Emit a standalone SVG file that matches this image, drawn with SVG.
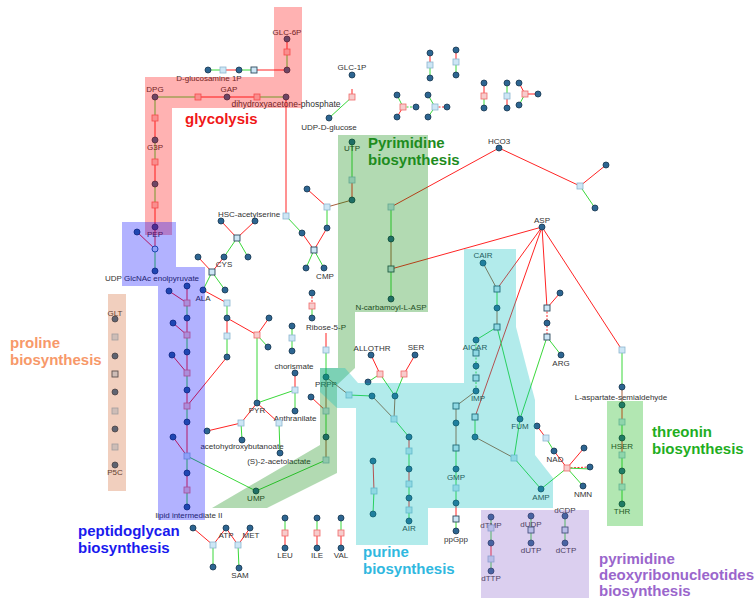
<svg xmlns="http://www.w3.org/2000/svg" xmlns:xlink="http://www.w3.org/1999/xlink" width="756" height="598" viewBox="0 0 756 598">
<style>
.r{stroke:#ff2424}.g{stroke:#3ad83a}.b{stroke:#a8603e}.d{stroke-dasharray:2 1.5}
.m{fill:#2d6591;stroke:#16364f;stroke-width:0.8}
.s{fill:#cde6f5;stroke:#8db6cf;stroke-width:0.8}
.p{fill:#f7cccc;stroke:#f06a6a;stroke-width:0.8}
.k{fill:#cde6f5;stroke:#2d4a5e;stroke-width:0.9}
text{font-family:"Liberation Sans",Arial,sans-serif}
.t{font-size:8px;fill:#333;text-anchor:middle}
.big{font-size:15px;font-weight:bold}
</style>
<defs>
<circle id="nd" r="3"/>
<rect id="sq" x="-3" y="-3" width="6" height="6"/>
</defs>
<rect width="756" height="598" fill="#fff"/>
<g id="connectors" fill="none" stroke-width="1">
<path class="r" d="M287 39V52M223 70H239M254 70H287M198 97H257M155 118V140M155 162V184M155 205V227M155 227L155 249M137 232L155 249M286 97V216M352 89V95M352 180V200M307 189L327 207M327 228L314 250M302 233L314 250M221 221L237 238M255 221L237 238M198 257L212 272M224 257L212 272M203 290L227 303M227 318V336M227 357L187 406M227 318L257 335M269 318L257 335M326 333V347M311 397L326 411M295 373V390M257 403L241 423M207 431L241 423M257 403L279 423M371 355L380 374M415 355L404 374M373 461L374 491M537 426L546 438M554 451L567 468M567 468L584 448M542 227L391 269M542 227L497 289M542 227L475 417M542 227L547 308M560 293L547 308M542 227L622 350M499 148L391 207M499 148L580 186M580 186L606 165M169 291L187 303M173 323L187 335M172 355L187 373M173 437L187 456M187 286V303M187 318V335M187 352V373M187 390V406M187 422V456M187 473V490M491 543V559M193 528L213 545M226 528L213 545M226 528L238 545M250 528L238 545M285 533V548M317 533V548M341 533V548M430 53V65M456 50V62M397 117L403 107M484 83V96M507 96V108M519 83L525 94M525 94H538M409 437V451M409 469V484M409 498V510M622 405V422M622 438V455M622 471V487M456 503V519"/>
<path class="r d" d="M312 293V306M567 468L590 467M435 107H447M547 308V337"/>
<path class="g" d="M287 52V70M208 70H223M239 70H254M155 97H198M257 97H286M155 97V118M155 140V162M155 184V205M155 249V271M352 97L329 118M352 142V180M327 207V228M286 216L302 233M314 250L306 268M314 250L324 268M237 238L224 257M237 238L248 257M212 272L225 290M212 272L203 290M227 303V318M227 336V357M257 335L268 347M257 335V403M312 306V318M292 326V351M326 353V377M326 411V437M326 460L256 491M256 491L187 456M349 395L372 396M295 390L257 403M295 390V411M241 423L242 440M279 423L280 453M380 374L368 382M380 374L395 396M404 374L395 396M394 419L409 437M409 451V469M409 484V498M409 510V521M374 491L373 514M497 289V308M497 327L476 340M497 327L520 419M475 417V437M514 458L520 419M514 458L541 489M546 438L554 451M567 468L541 489M567 468L583 486M567 468L590 469M547 337L561 355M547 337L520 419M622 350V387M391 207V239M391 269V299M580 186L595 208M187 303V318M187 335V352M187 373V390M187 406V422M187 456V473M187 490V507M622 422V438M622 455V471M622 487V504M456 448V503M456 519V531M491 517V543M491 559V571M531 516V543M565 516V543M213 545V567M238 545L239 568M285 518V533M317 518V533M341 518V533M430 65V78M456 62V75M397 95L403 107M428 95L435 107M428 117L435 107M484 96V108M507 83V96M519 105L525 94"/>
<path class="g d" d="M476 340V391M403 107H416"/>
<path class="b" d="M352 200L327 207M326 377V411M326 437V460M326 377L349 395M372 396L394 419M395 396L394 419M483 263L497 289M497 308V327M476 391L456 406M475 437L514 458M391 239V269M456 406V448M622 387V405"/>
</g>
<g id="nodes">
<g id="GLC6P"><use href="#nd" class="m" x="287" y="39"/><text class="t" x="287" y="35">GLC-6P</text></g>
<g id="r1"><use href="#sq" class="p" x="287" y="52"/></g>
<g id="n1"><use href="#nd" class="m" x="287" y="70"/></g>
<g id="GlcN1P"><use href="#nd" class="m" x="208" y="70"/><text class="t" x="209" y="81">D-glucosamine 1P</text></g>
<g id="r2"><use href="#sq" class="s" x="223" y="70"/></g>
<g id="n2"><use href="#nd" class="m" x="239" y="70"/></g>
<g id="r3"><use href="#sq" class="k" x="254" y="70"/></g>
<g id="DPG"><use href="#nd" class="m" x="155" y="97"/><text class="t" x="155" y="92">DPG</text></g>
<g id="r4"><use href="#sq" class="p" x="198" y="97"/></g>
<g id="GAP"><use href="#nd" class="m" x="227" y="97"/><text class="t" x="229" y="92">GAP</text></g>
<g id="r5"><use href="#sq" class="p" x="257" y="97"/></g>
<g id="DHAP"><use href="#nd" class="m" x="286" y="97"/><text class="t" x="286" y="107" style="font-size:8.5px">dihydroxyacetone-phosphate</text></g>
<g id="r6"><use href="#sq" class="p" x="155" y="118"/></g>
<g id="G3P"><use href="#nd" class="m" x="155" y="140"/><text class="t" x="155" y="150">G3P</text></g>
<g id="r7"><use href="#sq" class="p" x="155" y="162"/></g>
<g id="n3"><use href="#nd" class="m" x="155" y="184"/></g>
<g id="r8"><use href="#sq" class="p" x="155" y="205"/></g>
<g id="PEP"><use href="#nd" class="m" x="155" y="227"/><text class="t" x="155" y="237">PEP</text></g>
<g id="n4"><use href="#nd" class="m" x="137" y="232"/></g>
<g id="r9"><circle cx="155" cy="249" r="3" fill="#cde6f5" stroke="#2d6591" stroke-width="1"/></g>
<g id="UDPGlcNAcEP"><use href="#nd" class="m" x="155" y="271"/><text class="t" x="152" y="281">UDP GlcNAc enolpyruvate</text></g>
<g id="GLC1P"><use href="#nd" class="m" x="352" y="75"/><text class="t" x="352" y="70">GLC-1P</text></g>
<g id="r10"><use href="#sq" class="p" x="352" y="97"/></g>
<g id="UDPG"><use href="#nd" class="m" x="329" y="118"/><text class="t" x="329" y="130">UDP-D-glucose</text></g>
<g id="UTP"><use href="#nd" class="m" x="352" y="142"/><text class="t" x="352" y="151">UTP</text></g>
<g id="r11"><use href="#sq" class="s" x="352" y="180"/></g>
<g id="n5"><use href="#nd" class="m" x="352" y="200"/></g>
<g id="n6"><use href="#nd" class="m" x="307" y="189"/></g>
<g id="r12"><use href="#sq" class="s" x="327" y="207"/></g>
<g id="n7"><use href="#nd" class="m" x="327" y="228"/></g>
<g id="HSC"><use href="#sq" class="s" x="286" y="216"/><text class="t" x="249" y="217">HSC-acetylserine</text></g>
<g id="n8"><use href="#nd" class="m" x="302" y="233"/></g>
<g id="r13"><use href="#sq" class="k" x="314" y="250"/></g>
<g id="n9"><use href="#nd" class="m" x="306" y="268"/></g>
<g id="CMP"><use href="#nd" class="m" x="324" y="268"/><text class="t" x="325" y="279">CMP</text></g>
<g id="n10"><use href="#nd" class="m" x="221" y="221"/></g>
<g id="n11"><use href="#nd" class="m" x="255" y="221"/></g>
<g id="r14"><use href="#sq" class="k" x="237" y="238"/></g>
<g id="n12"><use href="#nd" class="m" x="224" y="257"/></g>
<g id="n13"><use href="#nd" class="m" x="248" y="257"/></g>
<g id="n14"><use href="#nd" class="m" x="198" y="257"/></g>
<g id="CYS"><use href="#sq" class="k" x="212" y="272"/><text class="t" x="224" y="267">CYS</text></g>
<g id="n15"><use href="#nd" class="m" x="225" y="290"/></g>
<g id="ALA"><use href="#nd" class="m" x="203" y="290"/><text class="t" x="203" y="301">ALA</text></g>
<g id="r15"><use href="#sq" class="s" x="227" y="303"/></g>
<g id="n16"><use href="#nd" class="m" x="227" y="318"/></g>
<g id="r16"><use href="#sq" class="s" x="227" y="336"/></g>
<g id="n17"><use href="#nd" class="m" x="227" y="357"/></g>
<g id="r17"><use href="#sq" class="p" x="257" y="335"/></g>
<g id="n18"><use href="#nd" class="m" x="269" y="318"/></g>
<g id="n19"><use href="#nd" class="m" x="268" y="347"/></g>
<g id="n20"><use href="#nd" class="m" x="312" y="293"/></g>
<g id="r18"><use href="#sq" class="p" x="312" y="306"/></g>
<g id="n21"><use href="#nd" class="m" x="312" y="318"/></g>
<g id="n22"><use href="#nd" class="m" x="292" y="326"/></g>
<g id="r19"><use href="#sq" class="s" x="292" y="338"/></g>
<g id="n23"><use href="#nd" class="m" x="292" y="351"/></g>
<g id="R5P"><text class="t" x="326" y="330">Ribose-5-P</text></g>
<g id="r20"><use href="#sq" class="s" x="326" y="350"/></g>
<g id="PRPP"><use href="#nd" class="m" x="326" y="377"/><text class="t" x="326" y="387">PRPP</text></g>
<g id="n24"><use href="#nd" class="m" x="311" y="397"/></g>
<g id="r21"><use href="#sq" class="s" x="326" y="411"/></g>
<g id="n25"><use href="#nd" class="m" x="326" y="437"/></g>
<g id="r22"><use href="#sq" class="s" x="326" y="460"/></g>
<g id="UMP"><use href="#nd" class="m" x="256" y="491"/><text class="t" x="256" y="501">UMP</text></g>
<g id="chorismate"><use href="#nd" class="m" x="295" y="373"/><text class="t" x="294" y="369">chorismate</text></g>
<g id="r23"><use href="#sq" class="s" x="295" y="390"/></g>
<g id="Anthranilate"><use href="#nd" class="m" x="295" y="411"/><text class="t" x="295" y="421">Anthranilate</text></g>
<g id="PYR"><use href="#nd" class="m" x="257" y="403"/><text class="t" x="257" y="413">PYR</text></g>
<g id="r24"><use href="#sq" class="s" x="241" y="423"/></g>
<g id="n26"><use href="#nd" class="m" x="207" y="431"/></g>
<g id="AHB"><use href="#nd" class="m" x="242" y="440"/><text class="t" x="242" y="449">acetohydroxybutanoate</text></g>
<g id="r25"><use href="#sq" class="s" x="279" y="423"/></g>
<g id="AL"><use href="#nd" class="m" x="280" y="453"/><text class="t" x="279" y="464">(S)-2-acetolactate</text></g>
<g id="ALLOTHR"><use href="#nd" class="m" x="371" y="355"/><text class="t" x="372" y="351">ALLOTHR</text></g>
<g id="SER"><use href="#nd" class="m" x="415" y="355"/><text class="t" x="416" y="350">SER</text></g>
<g id="r26"><use href="#sq" class="p" x="380" y="374"/></g>
<g id="r27"><use href="#sq" class="p" x="404" y="374"/></g>
<g id="n27"><use href="#nd" class="m" x="368" y="382"/></g>
<g id="n28"><use href="#nd" class="m" x="395" y="396"/></g>
<g id="r28"><use href="#sq" class="s" x="349" y="395"/></g>
<g id="n29"><use href="#nd" class="m" x="372" y="396"/></g>
<g id="r29"><use href="#sq" class="s" x="394" y="419"/></g>
<g id="n30"><use href="#nd" class="m" x="409" y="437"/></g>
<g id="r30"><use href="#sq" class="s" x="409" y="451"/></g>
<g id="n31"><use href="#nd" class="m" x="409" y="469"/></g>
<g id="r31"><use href="#sq" class="s" x="409" y="484"/></g>
<g id="n32"><use href="#nd" class="m" x="409" y="498"/></g>
<g id="r32"><use href="#sq" class="s" x="409" y="510"/></g>
<g id="AIR"><use href="#nd" class="m" x="409" y="521"/><text class="t" x="409" y="531">AIR</text></g>
<g id="n33"><use href="#nd" class="m" x="373" y="461"/></g>
<g id="r33"><use href="#sq" class="s" x="374" y="491"/></g>
<g id="n34"><use href="#nd" class="m" x="373" y="514"/></g>
<g id="CAIR"><use href="#nd" class="m" x="483" y="263"/><text class="t" x="483" y="258">CAIR</text></g>
<g id="r34"><use href="#sq" class="k" x="497" y="289"/></g>
<g id="n35"><use href="#nd" class="m" x="497" y="308"/></g>
<g id="r35"><use href="#sq" class="k" x="497" y="327"/></g>
<g id="AICAR"><use href="#nd" class="m" x="476" y="340"/><text class="t" x="475" y="350">AICAR</text></g>
<g id="r36"><use href="#sq" class="k" x="476" y="353"/></g>
<g id="n36"><use href="#nd" class="m" x="476" y="366"/></g>
<g id="r37"><use href="#sq" class="k" x="476" y="378"/></g>
<g id="IMP"><use href="#nd" class="m" x="476" y="391"/><text class="t" x="478" y="401">IMP</text></g>
<g id="r38"><use href="#sq" class="k" x="456" y="406"/></g>
<g id="n37"><use href="#nd" class="m" x="456" y="423"/></g>
<g id="r39"><use href="#sq" class="k" x="456" y="448"/></g>
<g id="GMP"><use href="#nd" class="m" x="456" y="469"/><text class="t" x="456" y="480">GMP</text></g>
<g id="r40"><use href="#sq" class="s" x="456" y="488"/></g>
<g id="n38"><use href="#nd" class="m" x="456" y="503"/></g>
<g id="r41"><use href="#sq" class="k" x="456" y="519"/></g>
<g id="ppGpp"><use href="#nd" class="m" x="456" y="531"/><text class="t" x="456" y="542">ppGpp</text></g>
<g id="r42"><use href="#sq" class="k" x="475" y="417"/></g>
<g id="n39"><use href="#nd" class="m" x="475" y="437"/></g>
<g id="r43"><use href="#sq" class="s" x="514" y="458"/></g>
<g id="FUM"><use href="#nd" class="m" x="520" y="419"/><text class="t" x="520" y="429">FUM</text></g>
<g id="AMP"><use href="#nd" class="m" x="541" y="489"/><text class="t" x="541" y="500">AMP</text></g>
<g id="n40"><use href="#nd" class="m" x="537" y="426"/></g>
<g id="r44"><use href="#sq" class="s" x="546" y="438"/></g>
<g id="NAD"><use href="#nd" class="m" x="554" y="451"/><text class="t" x="555" y="462">NAD</text></g>
<g id="r45"><use href="#sq" class="p" x="567" y="468"/></g>
<g id="n41"><use href="#nd" class="m" x="584" y="448"/></g>
<g id="n42"><use href="#nd" class="m" x="590" y="467"/></g>
<g id="NMN"><use href="#nd" class="m" x="583" y="486"/><text class="t" x="583" y="497">NMN</text></g>
<g id="ASP"><use href="#nd" class="m" x="542" y="227"/><text class="t" x="542" y="223">ASP</text></g>
<g id="n43"><use href="#nd" class="m" x="560" y="293"/></g>
<g id="r46"><use href="#sq" class="k" x="547" y="308"/></g>
<g id="n44"><use href="#nd" class="m" x="547" y="323"/></g>
<g id="r47"><use href="#sq" class="k" x="547" y="337"/></g>
<g id="ARG"><use href="#nd" class="m" x="561" y="355"/><text class="t" x="561" y="366">ARG</text></g>
<g id="r48"><use href="#sq" class="s" x="622" y="350"/></g>
<g id="ASA"><use href="#nd" class="m" x="622" y="387"/><text class="t" x="621" y="400">L-aspartate-semialdehyde</text></g>
<g id="n45"><use href="#nd" class="m" x="622" y="405"/></g>
<g id="r49"><use href="#sq" class="s" x="622" y="422"/></g>
<g id="HSER"><use href="#nd" class="m" x="622" y="438"/><text class="t" x="622" y="449">HSER</text></g>
<g id="r50"><use href="#sq" class="s" x="622" y="455"/></g>
<g id="n46"><use href="#nd" class="m" x="622" y="471"/></g>
<g id="r51"><use href="#sq" class="s" x="622" y="487"/></g>
<g id="THR"><use href="#nd" class="m" x="622" y="504"/><text class="t" x="622" y="514">THR</text></g>
<g id="HCO3"><use href="#nd" class="m" x="499" y="148"/><text class="t" x="499" y="144">HCO3</text></g>
<g id="r52"><use href="#sq" class="s" x="580" y="186"/></g>
<g id="n47"><use href="#nd" class="m" x="606" y="165"/></g>
<g id="n48"><use href="#nd" class="m" x="595" y="208"/></g>
<g id="r53"><use href="#sq" class="s" x="391" y="207"/></g>
<g id="n49"><use href="#nd" class="m" x="391" y="239"/></g>
<g id="r54"><use href="#sq" class="k" x="391" y="269"/></g>
<g id="NCASP"><use href="#nd" class="m" x="391" y="299"/><text class="t" x="391" y="310">N-carbamoyl-L-ASP</text></g>
<g id="GLT"><use href="#nd" class="m" x="115" y="319"/><text class="t" x="115" y="316">GLT</text></g>
<g id="r55"><use href="#sq" class="s" x="115" y="337"/></g>
<g id="n50"><use href="#nd" class="m" x="115" y="356"/></g>
<g id="r56"><use href="#sq" class="k" x="115" y="374"/></g>
<g id="n51"><use href="#nd" class="m" x="115" y="392"/></g>
<g id="r57"><use href="#sq" class="s" x="115" y="411"/></g>
<g id="n52"><use href="#nd" class="m" x="115" y="429"/></g>
<g id="r58"><use href="#sq" class="s" x="115" y="447"/></g>
<g id="P5C"><use href="#nd" class="m" x="115" y="465"/><text class="t" x="115" y="475">P5C</text></g>
<g id="n53"><use href="#nd" class="m" x="187" y="286"/></g>
<g id="n54"><use href="#nd" class="m" x="169" y="291"/></g>
<g id="r59"><use href="#sq" class="p" x="187" y="303"/></g>
<g id="n55"><use href="#nd" class="m" x="187" y="318"/></g>
<g id="n56"><use href="#nd" class="m" x="173" y="323"/></g>
<g id="r60"><use href="#sq" class="p" x="187" y="335"/></g>
<g id="n57"><use href="#nd" class="m" x="187" y="352"/></g>
<g id="n58"><use href="#nd" class="m" x="172" y="355"/></g>
<g id="r61"><use href="#sq" class="p" x="187" y="373"/></g>
<g id="n59"><use href="#nd" class="m" x="187" y="390"/></g>
<g id="r62"><use href="#sq" class="p" x="187" y="406"/></g>
<g id="n60"><use href="#nd" class="m" x="187" y="422"/></g>
<g id="n61"><use href="#nd" class="m" x="173" y="437"/></g>
<g id="r63"><use href="#sq" class="s" x="187" y="456"/></g>
<g id="n62"><use href="#nd" class="m" x="187" y="473"/></g>
<g id="r64"><use href="#sq" class="p" x="187" y="490"/></g>
<g id="lipidII"><use href="#nd" class="m" x="187" y="507"/><text class="t" x="189" y="518">lipid intermediate II</text></g>
<g id="dTMP"><use href="#nd" class="m" x="491" y="517"/><text class="t" x="491" y="528">dTMP</text></g>
<g id="r65"><use href="#sq" class="s" x="491" y="528"/></g>
<g id="n63"><use href="#nd" class="m" x="491" y="543"/></g>
<g id="r66"><use href="#sq" class="s" x="491" y="559"/></g>
<g id="dTTP"><use href="#nd" class="m" x="491" y="571"/><text class="t" x="491" y="581">dTTP</text></g>
<g id="dUDP"><use href="#nd" class="m" x="531" y="516"/><text class="t" x="531" y="527">dUDP</text></g>
<g id="r67"><use href="#sq" class="k" x="531" y="530"/></g>
<g id="dUTP"><use href="#nd" class="m" x="531" y="543"/><text class="t" x="531" y="553">dUTP</text></g>
<g id="dCDP"><use href="#nd" class="m" x="565" y="516"/><text class="t" x="565" y="513">dCDP</text></g>
<g id="r68"><use href="#sq" class="k" x="565" y="530"/></g>
<g id="dCTP"><use href="#nd" class="m" x="565" y="543"/><text class="t" x="566" y="553">dCTP</text></g>
<g id="n64"><use href="#nd" class="m" x="193" y="528"/></g>
<g id="r69"><use href="#sq" class="s" x="213" y="545"/></g>
<g id="ATP"><use href="#nd" class="m" x="226" y="528"/><text class="t" x="226" y="538">ATP</text></g>
<g id="r70"><use href="#sq" class="s" x="238" y="545"/></g>
<g id="MET"><use href="#nd" class="m" x="250" y="528"/><text class="t" x="251" y="538">MET</text></g>
<g id="n65"><use href="#nd" class="m" x="213" y="567"/></g>
<g id="SAM"><use href="#nd" class="m" x="239" y="568"/><text class="t" x="240" y="578">SAM</text></g>
<g id="n66"><use href="#nd" class="m" x="285" y="518"/></g>
<g id="r71"><use href="#sq" class="p" x="285" y="533"/></g>
<g id="LEU"><use href="#nd" class="m" x="285" y="548"/><text class="t" x="285" y="558">LEU</text></g>
<g id="n67"><use href="#nd" class="m" x="317" y="518"/></g>
<g id="r72"><use href="#sq" class="p" x="317" y="533"/></g>
<g id="ILE"><use href="#nd" class="m" x="317" y="548"/><text class="t" x="317" y="558">ILE</text></g>
<g id="n68"><use href="#nd" class="m" x="341" y="518"/></g>
<g id="r73"><use href="#sq" class="p" x="341" y="533"/></g>
<g id="VAL"><use href="#nd" class="m" x="341" y="548"/><text class="t" x="341" y="558">VAL</text></g>
<g id="n69"><use href="#nd" class="m" x="430" y="53"/></g>
<g id="r74"><use href="#sq" class="s" x="430" y="65"/></g>
<g id="n70"><use href="#nd" class="m" x="430" y="78"/></g>
<g id="n71"><use href="#nd" class="m" x="456" y="50"/></g>
<g id="r75"><use href="#sq" class="s" x="456" y="62"/></g>
<g id="n72"><use href="#nd" class="m" x="456" y="75"/></g>
<g id="n73"><use href="#nd" class="m" x="397" y="95"/></g>
<g id="n74"><use href="#nd" class="m" x="397" y="117"/></g>
<g id="r76"><use href="#sq" class="p" x="403" y="107"/></g>
<g id="n75"><use href="#nd" class="m" x="416" y="107"/></g>
<g id="n76"><use href="#nd" class="m" x="428" y="95"/></g>
<g id="n77"><use href="#nd" class="m" x="428" y="117"/></g>
<g id="r77"><use href="#sq" class="s" x="435" y="107"/></g>
<g id="n78"><use href="#nd" class="m" x="447" y="107"/></g>
<g id="n79"><use href="#nd" class="m" x="484" y="83"/></g>
<g id="r78"><use href="#sq" class="p" x="484" y="96"/></g>
<g id="n80"><use href="#nd" class="m" x="484" y="108"/></g>
<g id="n81"><use href="#nd" class="m" x="507" y="83"/></g>
<g id="r79"><use href="#sq" class="s" x="507" y="96"/></g>
<g id="n82"><use href="#nd" class="m" x="507" y="108"/></g>
<g id="n83"><use href="#nd" class="m" x="519" y="83"/></g>
<g id="n84"><use href="#nd" class="m" x="519" y="105"/></g>
<g id="r80"><use href="#sq" class="p" x="525" y="94"/></g>
<g id="n85"><use href="#nd" class="m" x="538" y="94"/></g>
</g>
<g id="pathways" stroke="none">
<path id="glycolysis-area" d="M274 7H302V108H172V235H145V77H274Z" fill="rgb(255,0,0)" fill-opacity="0.3"/>
<path id="peptidoglycan-area" d="M122 222H176V267H205V520H158V286H122Z" fill="rgb(0,0,255)" fill-opacity="0.3"/>
<path id="proline-area" d="M108 294H126V491H108Z" fill="rgb(210,97,40)" fill-opacity="0.3"/>
<path id="pyrimidine-area" d="M338 135H428V312H355V368L337 385V473L267 508H212L320 445V368H338Z" fill="rgb(0,133,0)" fill-opacity="0.3"/>
<path id="purine-area" d="M320 368H345L358 383H464V249H516V327L535 400V455L553 478V508H428V545H356V408H337L320 392Z" fill="rgb(0,190,190)" fill-opacity="0.3"/>
<path id="threonin-area" d="M607 401H643V526H607Z" fill="rgb(0,175,0)" fill-opacity="0.3"/>
<path id="deoxy-area" d="M481 510H589V598H481Z" fill="rgb(137,97,203)" fill-opacity="0.3"/>
</g>
<g id="titles" class="big">
<text x="185" y="124" fill="#f01818">glycolysis</text>
<text x="368" y="148" fill="#1e8c1e">Pyrimidine</text>
<text x="368" y="165" fill="#1e8c1e">biosynthesis</text>
<text x="10" y="348" fill="#f7996a">proline</text>
<text x="10" y="365" fill="#f7996a">biosynthesis</text>
<text x="78" y="536" fill="#1a1aee">peptidoglycan</text>
<text x="78" y="553" fill="#1a1aee">biosynthesis</text>
<text x="363" y="557" fill="#30b8e0">purine</text>
<text x="363" y="574" fill="#30b8e0">biosynthesis</text>
<text x="652" y="437" fill="#1fae1f">threonin</text>
<text x="652" y="454" fill="#1fae1f">biosynthesis</text>
<text x="599" y="564" fill="#9a66cc">pyrimidine</text>
<text x="599" y="580" fill="#9a66cc">deoxyribonucleotides</text>
<text x="599" y="596" fill="#9a66cc">biosynthesis</text>
</g>
</svg>
